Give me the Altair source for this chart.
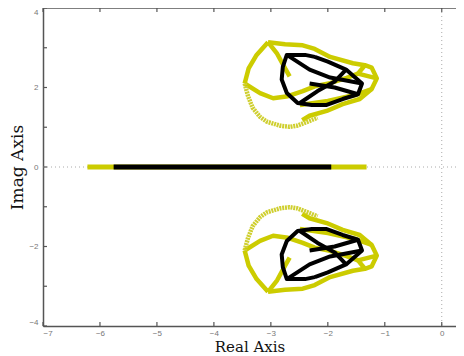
import altair as alt
import pandas as pd

# ---- data (upper half; lower half is the complex conjugate) ----
yellow_top_x = [-3.05, -2.75, -2.44, -2.23, -1.96, -1.56, -1.35, -1.23, -1.14, -1.23, -1.44, -1.74, -2.02, -2.32, -2.45]
yellow_top_y = [3.14, 3.09, 3.06, 2.97, 2.77, 2.61, 2.56, 2.50, 2.23, 1.96, 1.71, 1.58, 1.41, 1.29, 1.18]
yellow_left_x = [-3.05, -3.25, -3.39, -3.46]
yellow_left_y = [3.14, 2.82, 2.48, 2.10]
yellow_mid_x = [-3.46, -3.19, -2.96, -2.70, -2.44, -2.23, -1.96, -1.67, -1.47, -1.14]
yellow_mid_y = [2.10, 1.86, 1.73, 1.78, 1.91, 2.03, 2.11, 2.24, 2.35, 2.23]
yellow_spur_x = [-1.47, -1.35]
yellow_spur_y = [2.35, 2.56]
yellow_diag_x = [-3.05, -2.89, -2.75, -2.67]
yellow_diag_y = [3.14, 2.85, 2.48, 2.28]
yellow_inner_x = [-2.49, -2.00, -1.53, -1.23]
yellow_inner_y = [1.56, 1.66, 1.81, 1.96]

xcurve_x = [-3.46, -3.40, -3.32, -3.19, -3.07, -2.84, -2.67, -2.54, -2.32, -2.18]
xcurve_y = [2.10, 1.78, 1.49, 1.26, 1.14, 1.04, 1.01, 1.04, 1.16, 1.24]

black_outline_x = [-2.23, -2.40, -2.72, -2.79, -2.81, -2.72, -2.53, -2.28, -2.02, -1.74, -1.47, -1.40, -1.68, -2.00, -2.23]
black_outline_y = [2.77, 2.82, 2.82, 2.52, 2.20, 1.86, 1.61, 1.56, 1.56, 1.71, 1.83, 2.10, 2.45, 2.65, 2.77]
black_diag_x = [-2.72, -2.32, -1.96, -1.40]
black_diag_y = [2.82, 2.45, 2.25, 2.10]
black_cross_x = [-2.49, -2.18, -1.88, -1.68]
black_cross_y = [1.61, 1.91, 2.15, 2.45]
black_mid_x = [-2.32, -1.88, -1.47]
black_mid_y = [2.10, 2.00, 1.83]

real_yellow_x = [-6.22, -1.32]
real_black_x = [-5.76, -1.94]

x_ticks = [-7, -6, -5, -4, -3, -2, -1, 0]
y_ticks = [-4, -3, -2, -1, 0, 1, 2, 3, 4]

W, H = 413, 318
YEL = "#cccc00"
FRAME = "#555555"


def branches(named):
    rows = []
    for name, (xs, ys) in named.items():
        for i, (a, b) in enumerate(zip(xs, ys)):
            rows.append({"seg": name, "i": i, "x": a, "y": b})
            rows.append({"seg": name + "_c", "i": i, "x": a, "y": -b})
    return pd.DataFrame(rows)


yellow_df = branches({
    "top": (yellow_top_x, yellow_top_y),
    "left": (yellow_left_x, yellow_left_y),
    "mid": (yellow_mid_x, yellow_mid_y),
    "spur": (yellow_spur_x, yellow_spur_y),
    "diag": (yellow_diag_x, yellow_diag_y),
    "inner": (yellow_inner_x, yellow_inner_y),
})
xcurve_df = branches({"xc": (xcurve_x, xcurve_y)})
black_df = branches({
    "outline": (black_outline_x, black_outline_y),
    "diag": (black_diag_x, black_diag_y),
    "cross": (black_cross_x, black_cross_y),
    "mid": (black_mid_x, black_mid_y),
})
real_y_df = pd.DataFrame({"x": real_yellow_x, "y": [0, 0], "seg": ["r", "r"], "i": [0, 1]})
real_b_df = pd.DataFrame({"x": real_black_x, "y": [0, 0], "seg": ["r", "r"], "i": [0, 1]})

xscale = alt.Scale(domain=[-7, 0.25], nice=False, zero=False)
yscale = alt.Scale(domain=[-4, 4], nice=False, zero=False)

xaxis = alt.Axis(values=x_ticks, format="d", title="Real Axis", ticks=False, grid=False,
                 labelPadding=3, labelFontSize=8, labelColor="#777777", labelFont="Liberation Sans",
                 domainColor=FRAME, domainWidth=1.5, titleFont="DejaVu Serif", titleFontSize=15,
                 titleFontWeight="normal", titleColor="#111111", titlePadding=2)
yaxis = alt.Axis(values=y_ticks, format="d", title="Imag Axis", ticks=False, grid=False,
                 labelPadding=5, labelFontSize=8, labelColor="#777777", labelFont="Liberation Sans",
                 labelFlush=True,
                 domainColor=FRAME, domainWidth=1.5, titleFont="DejaVu Serif", titleFontSize=17,
                 titleFontWeight="normal", titleColor="#111111", titlePadding=2)

zero_v = alt.Chart(pd.DataFrame({"x": [0]})).mark_rule(color="#aaaaaa", strokeDash=[1, 3], strokeWidth=1).encode(
    x=alt.X("x:Q", scale=xscale, axis=xaxis))
zero_h = alt.Chart(pd.DataFrame({"y": [0]})).mark_rule(color="#aaaaaa", strokeDash=[1, 3], strokeWidth=1).encode(
    y=alt.Y("y:Q", scale=yscale, axis=yaxis))


def lines(df, color, width, dash=None):
    kw = dict(color=color, strokeWidth=width, strokeJoin="round", strokeCap="butt")
    if dash:
        kw["strokeDash"] = dash
    return alt.Chart(df).mark_line(**kw).encode(
        x=alt.X("x:Q", scale=xscale), y=alt.Y("y:Q", scale=yscale),
        detail="seg:N", order="i:Q")


yellow = lines(yellow_df, YEL, 4.5)
xcurve = lines(xcurve_df, "#cfcf30", 4.5, dash=[2, 0.8])
black = lines(black_df, "#000000", 4)
real_y = lines(real_y_df, YEL, 5)
real_b = lines(real_b_df, "#000000", 5)

xt = pd.DataFrame({"x": x_ticks})
yt = pd.DataFrame({"y": y_ticks})
tick_b = alt.Chart(xt).mark_rule(color=FRAME, strokeWidth=1.2).encode(
    x=alt.X("x:Q", scale=xscale), y=alt.value(H), y2=alt.value(H - 4))
tick_t = alt.Chart(xt).mark_rule(color=FRAME, strokeWidth=1.2).encode(
    x=alt.X("x:Q", scale=xscale), y=alt.value(0), y2=alt.value(4))
tick_l = alt.Chart(yt).mark_rule(color=FRAME, strokeWidth=1.2).encode(
    y=alt.Y("y:Q", scale=yscale), x=alt.value(0), x2=alt.value(4))
top_border = alt.Chart(pd.DataFrame({"a": [0]})).mark_rule(color=FRAME, strokeWidth=1.5).encode(
    x=alt.value(0), x2=alt.value(W), y=alt.value(0))

chart = alt.layer(zero_v, zero_h, yellow, xcurve, black, real_y, real_b,
                  tick_b, tick_t, tick_l, top_border).properties(
    width=W, height=H,
    autosize=alt.AutoSizeParams(type="none"),
    padding={"left": 35, "top": 0, "right": 0, "bottom": 30},
).configure_view(stroke=None)

chart.save("out.html", embed_options={"renderer": "svg", "actions": False})
